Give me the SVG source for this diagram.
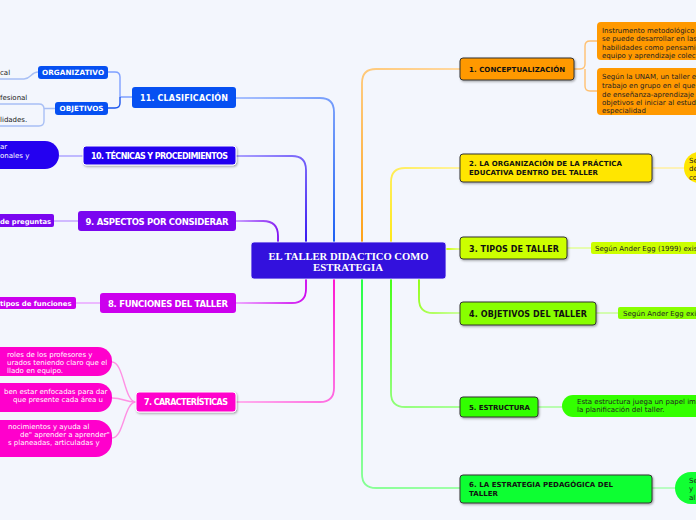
<svg xmlns="http://www.w3.org/2000/svg" width="696" height="520" viewBox="0 0 696 520">
<defs>
<filter id="sh" x="-10%" y="-20%" width="120%" height="150%"><feDropShadow dx="1" dy="1.2" stdDeviation="0.8" flood-color="#000" flood-opacity="0.35"/></filter>
<linearGradient id="g1" gradientUnits="userSpaceOnUse" x1="362" y1="243" x2="460" y2="69"><stop offset="0" stop-color="#ff9900"/><stop offset="1" stop-color="#ffd8a0"/></linearGradient>
<linearGradient id="g2" gradientUnits="userSpaceOnUse" x1="391" y1="243" x2="460" y2="168"><stop offset="0" stop-color="#ffe600"/><stop offset="1" stop-color="#fff3a0"/></linearGradient>
<linearGradient id="g3" gradientUnits="userSpaceOnUse" x1="446" y1="249" x2="460" y2="249"><stop offset="0" stop-color="#ccff00"/><stop offset="1" stop-color="#e6ff99"/></linearGradient>
<linearGradient id="g4" gradientUnits="userSpaceOnUse" x1="419" y1="279" x2="460" y2="313"><stop offset="0" stop-color="#88ff00"/><stop offset="1" stop-color="#ccffa0"/></linearGradient>
<linearGradient id="g5" gradientUnits="userSpaceOnUse" x1="391" y1="279" x2="460" y2="407"><stop offset="0" stop-color="#33ff00"/><stop offset="1" stop-color="#aaff99"/></linearGradient>
<linearGradient id="g6" gradientUnits="userSpaceOnUse" x1="362" y1="279" x2="460" y2="488"><stop offset="0" stop-color="#11ff33"/><stop offset="1" stop-color="#a0ffaa"/></linearGradient>
<linearGradient id="g7" gradientUnits="userSpaceOnUse" x1="334" y1="279" x2="236" y2="402"><stop offset="0" stop-color="#ff00cc"/><stop offset="1" stop-color="#ffb0ee"/></linearGradient>
<linearGradient id="g8" gradientUnits="userSpaceOnUse" x1="306" y1="279" x2="236" y2="303"><stop offset="0" stop-color="#cc00ee"/><stop offset="1" stop-color="#eeaaff"/></linearGradient>
<linearGradient id="g9" gradientUnits="userSpaceOnUse" x1="278" y1="243" x2="236" y2="221"><stop offset="0" stop-color="#7a06f0"/><stop offset="1" stop-color="#c9a0ff"/></linearGradient>
<linearGradient id="g10" gradientUnits="userSpaceOnUse" x1="306" y1="243" x2="236" y2="156"><stop offset="0" stop-color="#2400f0"/><stop offset="1" stop-color="#aaa0ff"/></linearGradient>
<linearGradient id="g11" gradientUnits="userSpaceOnUse" x1="334" y1="243" x2="236" y2="98"><stop offset="0" stop-color="#0650f2"/><stop offset="1" stop-color="#a8c0ff"/></linearGradient>
</defs>
<style>
.c{fill:none;stroke-width:1.8;stroke-linecap:round}
.cl{fill:none;stroke-width:1.4}
.rn{stroke:#333;stroke-width:1;filter:url(#sh)}
.tb{font-family:"DejaVu Sans",Verdana,sans-serif;font-weight:bold}
.tw{fill:#fff}
.tk{fill:#111}
.tr{font-family:"DejaVu Sans",Verdana,sans-serif;font-size:7px;fill:#222}
.trw{font-family:"DejaVu Sans",Verdana,sans-serif;font-size:7px;fill:#fff}
</style>
<rect x="0" y="0" width="696" height="520" fill="#f3f6fd"/>

<g id="connectors">
<path class="c" stroke="url(#g1)" d="M362,243 V83 Q362,69 376,69 H460"/>
<path class="cl" stroke="#ffc070" d="M574,69 H580 Q585,69 585,64 V46 Q585,41 590,41 H597 M585,69 V86 Q585,91 590,91 H597"/>
<path class="c" stroke="url(#g2)" d="M391,243 V182 Q391,168 405,168 H460"/>
<path class="cl" stroke="#fff09a" d="M652,168 H684"/>
<path class="c" stroke="url(#g3)" d="M446,249 H460"/>
<path class="cl" stroke="#e0ff90" d="M567,248 H591"/>
<path class="c" stroke="url(#g4)" d="M419,279 V299 Q419,313 433,313 H460"/>
<path class="cl" stroke="#c4ff90" d="M596,313 H618"/>
<path class="c" stroke="url(#g5)" d="M391,279 V393 Q391,407 405,407 H460"/>
<path class="cl" stroke="#a0ff90" d="M538,407 H562"/>
<path class="c" stroke="url(#g6)" d="M362,279 V474 Q362,488 376,488 H460"/>
<path class="cl" stroke="#a0ffaa" d="M652,488 H675"/>
<path class="c" stroke="url(#g11)" d="M334,243 V112 Q334,98 320,98 H236"/>
<path class="cl" stroke="#7fa0ff" d="M132,97 H120 M120,97 V77 Q120,72 115,72 H108"/>
<path class="cl" stroke="#1a55ee" d="M120,97 V103 Q120,108 115,108 H108"/>
<path class="cl" stroke="#a8bff5" d="M38,72 C31,72 31,79 24,79 H0"/>
<path class="cl" stroke="#a8bff5" d="M55,108.5 H44 M0,104 H39 Q44,104 44,109 V121 Q44,126 39,126 H0"/>
<path class="c" stroke="url(#g10)" d="M306,243 V170 Q306,156 292,156 H236"/>
<path class="cl" stroke="#a8a0ff" d="M83,156 H59"/>
<path class="c" stroke="url(#g9)" d="M278,243 V236 Q278,221 263,221 H236"/>
<path class="cl" stroke="#c0a0ff" d="M78,221 H54"/>
<path class="c" stroke="url(#g8)" d="M306,279 V289 Q306,303 292,303 H236"/>
<path class="cl" stroke="#e8a0ff" d="M100,303 H76"/>
<path class="c" stroke="url(#g7)" d="M334,279 V388 Q334,402 320,402 H236"/>
<path class="cl" stroke="#ff90e4" d="M136,402 C124,402 124,362 112,362 M136,402 C124,402 124,398 112,398 M136,402 C124,402 124,438 112,438"/>
</g>

<g id="center">
<rect x="251" y="242" width="195" height="37" rx="3" fill="#3311dd" stroke="#f0f0ff" stroke-width="0.8"/>
<text x="348.5" y="259.5" text-anchor="middle" font-family="'Liberation Serif','Times New Roman',serif" font-weight="bold" font-size="10.5" fill="#fff" textLength="160" lengthAdjust="spacingAndGlyphs">EL TALLER DIDACTICO COMO</text>
<text x="348" y="270.5" text-anchor="middle" font-family="'Liberation Serif','Times New Roman',serif" font-weight="bold" font-size="10.5" fill="#fff" textLength="70" lengthAdjust="spacingAndGlyphs">ESTRATEGIA</text>
</g>

<g id="n1">
<rect class="rn" x="460" y="58" width="114" height="22" rx="3" fill="#ff9900"/>
<text class="tb tk" x="469" y="72" font-size="7" textLength="96">1. CONCEPTUALIZACIÓN</text>
</g>
<g id="n1a">
<rect x="597" y="22" width="120" height="38" rx="4" fill="#ff9900"/>
<text class="tr" x="602" y="32.5">Instrumento metodológico</text>
<text class="tr" x="602" y="41">se puede desarrollar en las</text>
<text class="tr" x="602" y="49.5">habilidades como pensamie</text>
<text class="tr" x="602" y="58">equipo y aprendizaje colect</text>
</g>
<g id="n1b">
<rect x="597" y="68" width="120" height="47" rx="4" fill="#ff9900"/>
<text class="tr" x="602" y="79.2">Según la UNAM, un taller e</text>
<text class="tr" x="602" y="88.2">trabajo en grupo en el que</text>
<text class="tr" x="602" y="96.8">de enseñanza-aprendizaje</text>
<text class="tr" x="602" y="105.2">objetivos el iniciar al estud</text>
<text class="tr" x="602" y="112.5">especialidad</text>
</g>

<g id="n2">
<rect class="rn" x="460" y="154" width="192" height="28" rx="3" fill="#ffe600"/>
<text class="tb tk" x="469" y="166" font-size="7" textLength="153">2. LA ORGANIZACIÓN DE LA PRÁCTICA</text>
<text class="tb tk" x="469" y="174.5" font-size="7" textLength="129">EDUCATIVA DENTRO DEL TALLER</text>
</g>
<g id="n2a">
<rect x="684" y="152" width="60" height="31" rx="15" fill="#ffe600"/>
<text class="tr" x="689" y="162.5">Se</text>
<text class="tr" x="689" y="171">de</text>
<text class="tr" x="689" y="179.5">co</text>
</g>

<g id="n3">
<rect class="rn" x="460" y="237" width="107" height="22" rx="3" fill="#ccff00"/>
<text class="tb tk" x="469" y="252" font-size="8" textLength="90">3. TIPOS DE TALLER</text>
</g>
<g id="n3a">
<rect x="591" y="242" width="120" height="12" rx="2" fill="#ccff00"/>
<text class="tr" x="595" y="250.5">Según Ander Egg (1999) exis</text>
</g>

<g id="n4">
<rect class="rn" x="460" y="302" width="136" height="23" rx="3" fill="#88ff00"/>
<text class="tb tk" x="469" y="317" font-size="8" textLength="118">4. OBJETIVOS DEL TALLER</text>
</g>
<g id="n4a">
<rect x="618" y="307" width="90" height="12" rx="2" fill="#88ff00"/>
<text class="tr" x="623" y="315.5">Según Ander Egg exi</text>
</g>

<g id="n5">
<rect class="rn" x="460" y="397" width="78" height="20" rx="3" fill="#33ff00"/>
<text class="tb tk" x="469" y="409.5" font-size="7" textLength="61">5. ESTRUCTURA</text>
</g>
<g id="n5a">
<rect x="562" y="395" width="150" height="22" rx="11" fill="#33ff00"/>
<text class="tr" x="577" y="404">Esta estructura juega un papel im</text>
<text class="tr" x="577" y="412">la planificación del taller.</text>
</g>

<g id="n6">
<rect class="rn" x="460" y="475" width="192" height="28" rx="3" fill="#11ff33"/>
<text class="tb tk" x="469" y="487" font-size="7" textLength="144">6. LA ESTRATEGIA PEDAGÓGICA DEL</text>
<text class="tb tk" x="469" y="495.5" font-size="7" textLength="29">TALLER</text>
</g>
<g id="n6a">
<rect x="675" y="472" width="60" height="32" rx="16" fill="#11ff33"/>
<text class="tr" x="689" y="482.5">Se</text>
<text class="tr" x="689" y="491">y</text>
<text class="tr" x="689" y="500">al</text>
</g>

<g id="n11">
<rect x="132" y="87" width="104" height="21" rx="3" fill="#0650f2"/>
<text class="tb tw" x="184" y="101" text-anchor="middle" font-size="8" textLength="88">11. CLASIFICACIÓN</text>
</g>
<g id="n11a">
<rect x="38" y="66" width="70" height="13" rx="3" fill="#0650f2"/>
<text class="tb tw" x="73" y="75" text-anchor="middle" font-size="7.2" textLength="62">ORGANIZATIVO</text>
</g>
<g id="n11a1"><text class="tr" x="0" y="74.5">cal</text></g>
<g id="n11b">
<rect x="55" y="102" width="53" height="13" rx="3" fill="#0650f2"/>
<text class="tb tw" x="81.5" y="111" text-anchor="middle" font-size="7.2" textLength="44">OBJETIVOS</text>
</g>
<g id="n11b1"><text class="tr" x="0" y="100">fesional</text></g>
<g id="n11b2"><text class="tr" x="0" y="121.5">lidades.</text></g>

<g id="n10">
<rect x="83" y="146" width="153" height="19" rx="3" fill="#2400f0" stroke="#fff" stroke-width="1" filter="url(#sh)"/>
<text class="tb tw" x="159.5" y="158.5" text-anchor="middle" font-size="8" textLength="137">10. TÉCNICAS Y PROCEDIMIENTOS</text>
</g>
<g id="n10a">
<rect x="-20" y="141" width="79" height="28" rx="14" fill="#2400f0"/>
<text class="trw" x="0" y="149">ar</text>
<text class="trw" x="0" y="157.5">onales y</text>
</g>

<g id="n9">
<rect x="78" y="211" width="158" height="20" rx="3" fill="#7a06f0"/>
<text class="tb tw" x="157" y="225" text-anchor="middle" font-size="8.5" textLength="143">9. ASPECTOS POR CONSIDERAR</text>
</g>
<g id="n9a">
<rect x="-10" y="214" width="64" height="13" rx="2" fill="#7a06f0"/>
<text class="tb tw" x="0" y="223.5" font-size="6.8">de preguntas</text>
</g>

<g id="n8">
<rect x="100" y="293" width="136" height="20" rx="3" fill="#cc00ee"/>
<text class="tb tw" x="168" y="307" text-anchor="middle" font-size="8.5" textLength="120">8. FUNCIONES DEL TALLER</text>
</g>
<g id="n8a">
<rect x="-10" y="297" width="86" height="12" rx="2" fill="#cc00ee"/>
<text class="tb tw" x="0" y="306" font-size="6.9">tipos de funciones</text>
</g>

<g id="n7">
<rect x="136" y="392" width="100" height="20" rx="3" fill="#ff00cc" stroke="#fff" stroke-width="1" filter="url(#sh)"/>
<text class="tb tw" x="186" y="405" text-anchor="middle" font-size="8" textLength="84">7. CARACTERÍSTICAS</text>
</g>
<g id="n7a">
<rect x="-30" y="347" width="142" height="29" rx="14" fill="#ff00cc"/>
<text class="trw" x="7" y="356.5">roles de los profesores y</text>
<text class="trw" x="7" y="364.5">urados teniendo claro que el</text>
<text class="trw" x="7" y="372.5">llado en equipo.</text>
</g>
<g id="n7b">
<rect x="-30" y="383" width="142" height="29" rx="14" fill="#ff00cc"/>
<text class="trw" x="4" y="393.5">ben estar enfocadas para dar</text>
<text class="trw" x="13" y="401.8">que presente cada área u</text>
</g>
<g id="n7c">
<rect x="-30" y="420" width="142" height="37" rx="16" fill="#ff00cc"/>
<text class="trw" x="8" y="429">nocimientos y ayuda al</text>
<text class="trw" x="20" y="437">de" aprender a aprender"</text>
<text class="trw" x="8" y="445">s planeadas, articuladas y</text>
</g>
</svg>
